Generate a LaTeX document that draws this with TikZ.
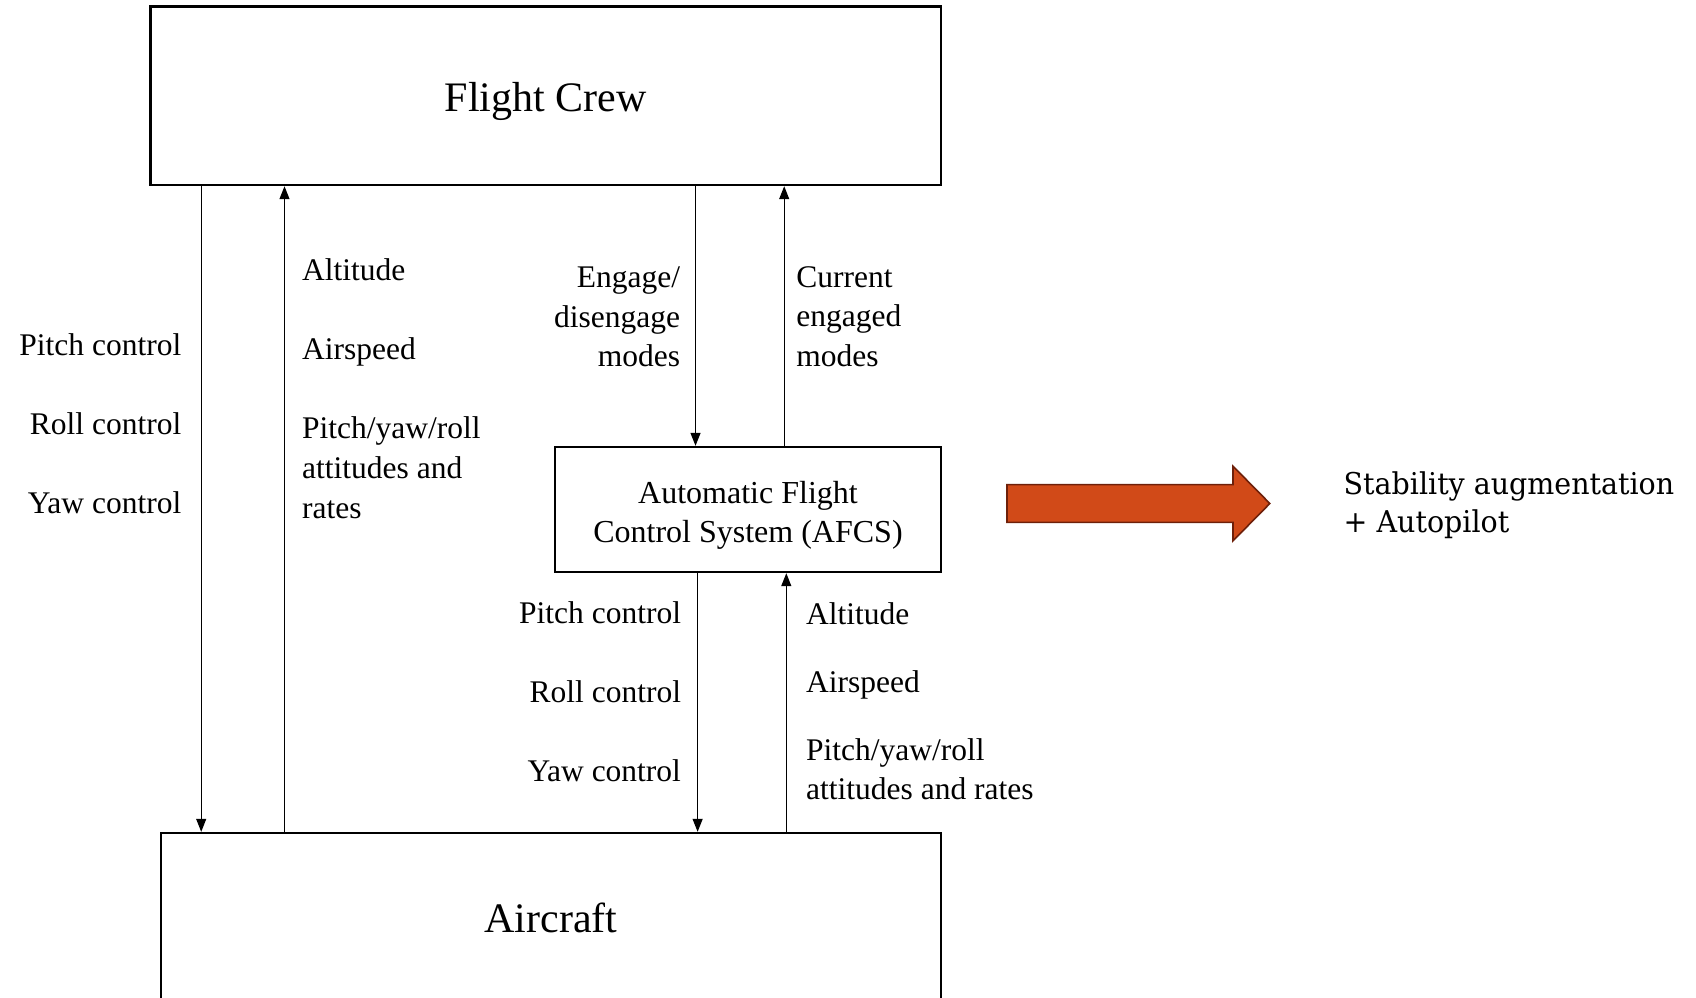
\documentclass[tikz,border=0pt]{standalone}
\usepackage{fontspec}
\setmainfont{Liberation Serif}
\newfontfamily\slabfont[FakeStretch=0.95]{DejaVu Serif}
\usetikzlibrary{arrows.meta}
\definecolor{arrowfill}{RGB}{209,74,24}
\definecolor{arrowedge}{RGB}{110,32,10}
\begin{document}
\begin{tikzpicture}[x=0.5pt,y=-0.5pt,
  box/.style={draw, line width=1.2pt, inner sep=0pt},
  bigfont/.style={font=\fontsize{21}{25}\selectfont},
  conn/.style={line width=0.6pt, -{Triangle[length=6.5pt,width=5pt]}},
  lbl/.style={font=\fontsize{15.75}{20}\selectfont, inner sep=0pt},
  lr/.style={lbl, anchor=base east},
  ll/.style={lbl, anchor=base west},
  slab/.style={font=\slabfont\fontsize{15}{19}\selectfont, inner sep=0pt, anchor=base west}
]
\useasboundingbox (0,0) rectangle (1696,997);
\clip (0,0) rectangle (1696,997);

% boxes
\node[box, minimum width=395.35pt, minimum height=89.25pt] (fc) at (545.65,95.75) {};
\node[bigfont] (fctext) at ([yshift=-2.75pt]fc.center) {Flight Crew};
\node[box, minimum width=193pt, minimum height=62.5pt] (afcs) at (748,509.5) {};
\node[align=center, font=\fontsize{16}{19.5}\selectfont] (afcstext) at ([yshift=-2.7pt]afcs.center) {Automatic Flight\\Control System (AFCS)};
\node[box, bigfont, minimum width=390pt, minimum height=85pt] (ac) at (551,918) {Aircraft};

% x positions of connectors
\coordinate (xa) at (201.2,0);
\coordinate (xb) at (284.5,0);
\coordinate (xc) at (695.5,0);
\coordinate (xd) at (784.2,0);
\coordinate (xe) at (697.6,0);
\coordinate (xf) at (786.3,0);

% connectors
\draw[conn] (fc.south -| xa) -- (ac.north -| xa);
\draw[conn] (ac.north -| xb) -- (fc.south -| xb);
\draw[conn] (fc.south -| xc) -- (afcs.north -| xc);
\draw[conn] (afcs.north -| xd) -- (fc.south -| xd);
\draw[conn] (afcs.south -| xe) -- (ac.north -| xe);
\draw[conn] (ac.north -| xf) -- (afcs.south -| xf);

% labels: crew -> aircraft
\node[lr] (l1) at (181.7,355.9) {Pitch control};
\node[lr] (l2) at (181.7,434.8) {Roll control};
\node[lr] (l3) at (181.7,513.8) {Yaw control};
% aircraft -> crew
\node[ll] (m1) at (301.8,280.1) {Altitude};
\node[ll] (m2) at (301.8,359.1) {Airspeed};
\node[ll] (m3) at (301.8,438.0) {Pitch/yaw/roll};
\node[ll] (m4) at (301.8,478.1) {attitudes and};
\node[ll] (m5) at (301.8,518.1) {rates};
% crew -> afcs
\node[lr] (n1) at (680.5,287.7) {Engage/};
\node[lr] (n2) at (680.5,327.7) {disengage};
\node[lr] (n3) at (680.5,366.7) {modes};
% afcs -> crew
\node[ll] (o1) at (796,287.7) {Current};
\node[ll] (o2) at (796,326.6) {engaged};
\node[ll] (o3) at (796,366.7) {modes};
% afcs -> aircraft
\node[lr] (p1) at (681.4,623) {Pitch control};
\node[lr] (p2) at (681.4,702) {Roll control};
\node[lr] (p3) at (681.4,781) {Yaw control};
% aircraft -> afcs
\node[ll] (q1) at (805.8,624.1) {Altitude};
\node[ll] (q2) at (805.8,692.2) {Airspeed};
\node[ll] (q3) at (805.8,760.4) {Pitch/yaw/roll};
\node[ll] (q4) at (805.8,799.3) {attitudes and rates};

% big arrow
\draw[fill=arrowfill, draw=arrowedge, line width=0.8pt, line join=miter]
  (1007,484.6) -- (1233,484.6) -- (1233,466.2) -- (1269.8,503.5)
  -- (1233,540.8) -- (1233,522.4) -- (1007,522.4) -- cycle;

\node[slab] (s1) at (1343.3,494.2) {Stability augmentation};
\node[slab] (s2) at (1343.3,532) {+ Autopilot};
\end{tikzpicture}
\end{document}
